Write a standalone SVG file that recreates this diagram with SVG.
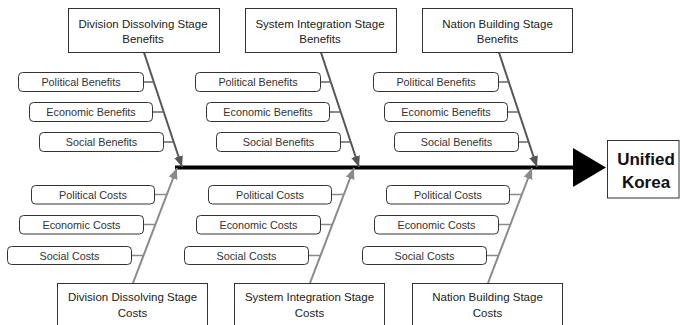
<svg xmlns="http://www.w3.org/2000/svg" width="680" height="325" viewBox="0 0 680 325">
  <defs>
    <style>
      .box { fill: #fff; stroke: #333; stroke-width: 1; }
      .pill { fill: #fff; stroke: #333; stroke-width: 1; }
      .title { font-family: "Liberation Sans", Arial, sans-serif; font-size: 11.5px; fill: #222; text-anchor: middle; }
      .item { font-family: "Liberation Sans", Arial, sans-serif; font-size: 10.8px; fill: #333; text-anchor: middle; }
      .goal { font-family: "Liberation Sans", Arial, sans-serif; font-size: 17px; font-weight: bold; fill: #111; text-anchor: middle; }
      .ben { stroke: #555; stroke-width: 2; fill: none; }
      .cost { stroke: #8a8a8a; stroke-width: 2; fill: none; }
      .tick-ben { stroke: #666; stroke-width: 1.5; }
      .tick-cost { stroke: #8a8a8a; stroke-width: 1.5; }
    </style>
    <marker id="headBen" markerUnits="userSpaceOnUse" markerWidth="12" markerHeight="10" refX="11" refY="4.5" orient="auto">
      <path d="M0,0 L11,4.5 L0,9 Z" fill="#555"/>
    </marker>
    <marker id="headCost" markerUnits="userSpaceOnUse" markerWidth="12" markerHeight="10" refX="11" refY="4.5" orient="auto">
      <path d="M0,0 L11,4.5 L0,9 Z" fill="#8a8a8a"/>
    </marker>
  </defs>

  <!-- connectors: spine, stage bones and item ticks -->
  <g id="connectors">
    <line x1="175" y1="167.5" x2="574" y2="167.5" stroke="#000" stroke-width="4"/>
    <polygon points="573,148 573,187 606,167.5" fill="#000"/>

    <!-- stage 1 -->
    <line class="ben" x1="144" y1="52.5" x2="182" y2="167" marker-end="url(#headBen)"/>
    <line class="tick-ben" x1="143.5" y1="82" x2="153.8" y2="82"/>
    <line class="tick-ben" x1="152.5" y1="112" x2="163.7" y2="112"/>
    <line class="tick-ben" x1="163.5" y1="142" x2="173.6" y2="142"/>
    <line class="cost" x1="133" y1="283" x2="177" y2="168" marker-end="url(#headCost)"/>
    <line class="tick-cost" x1="154.5" y1="194.5" x2="166.8" y2="194.5"/>
    <line class="tick-cost" x1="143.5" y1="224.5" x2="155.4" y2="224.5"/>
    <line class="tick-cost" x1="131.5" y1="255.5" x2="143.5" y2="255.5"/>

    <!-- stage 2 -->
    <g transform="translate(177,0)">
      <line class="ben" x1="144" y1="52.5" x2="182" y2="167" marker-end="url(#headBen)"/>
      <line class="tick-ben" x1="143.5" y1="82" x2="153.8" y2="82"/>
      <line class="tick-ben" x1="152.5" y1="112" x2="163.7" y2="112"/>
      <line class="tick-ben" x1="163.5" y1="142" x2="173.6" y2="142"/>
      <line class="cost" x1="133" y1="283" x2="177" y2="168" marker-end="url(#headCost)"/>
      <line class="tick-cost" x1="154.5" y1="194.5" x2="166.8" y2="194.5"/>
      <line class="tick-cost" x1="143.5" y1="224.5" x2="155.4" y2="224.5"/>
      <line class="tick-cost" x1="131.5" y1="255.5" x2="143.5" y2="255.5"/>
    </g>

    <!-- stage 3 -->
    <g transform="translate(355,0)">
      <line class="ben" x1="144" y1="52.5" x2="182" y2="167" marker-end="url(#headBen)"/>
      <line class="tick-ben" x1="143.5" y1="82" x2="153.8" y2="82"/>
      <line class="tick-ben" x1="152.5" y1="112" x2="163.7" y2="112"/>
      <line class="tick-ben" x1="163.5" y1="142" x2="173.6" y2="142"/>
      <line class="cost" x1="133" y1="283" x2="177" y2="168" marker-end="url(#headCost)"/>
      <line class="tick-cost" x1="154.5" y1="194.5" x2="166.8" y2="194.5"/>
      <line class="tick-cost" x1="143.5" y1="224.5" x2="155.4" y2="224.5"/>
      <line class="tick-cost" x1="131.5" y1="255.5" x2="143.5" y2="255.5"/>
    </g>
  </g>

  <!-- stage 1 nodes -->
  <g id="s1-benefits">
    <rect class="box" x="68.5" y="8.5" width="151" height="44"/>
    <text class="title" x="143" y="28">Division Dissolving Stage</text>
    <text class="title" x="143" y="43">Benefits</text>
  </g>
  <g id="s1-political-benefits">
    <rect class="pill" x="18.5" y="72.5" width="125" height="19" rx="4"/>
    <text class="item" x="81" y="86">Political Benefits</text>
  </g>
  <g id="s1-economic-benefits">
    <rect class="pill" x="29.5" y="102.5" width="123" height="19" rx="4"/>
    <text class="item" x="91" y="116">Economic Benefits</text>
  </g>
  <g id="s1-social-benefits">
    <rect class="pill" x="39.5" y="132.5" width="124" height="19" rx="4"/>
    <text class="item" x="101.5" y="146">Social Benefits</text>
  </g>
  <g id="s1-political-costs">
    <rect class="pill" x="31.5" y="185.5" width="123" height="18.5" rx="4"/>
    <text class="item" x="93" y="198.5">Political Costs</text>
  </g>
  <g id="s1-economic-costs">
    <rect class="pill" x="19.5" y="215.5" width="124" height="18.5" rx="4"/>
    <text class="item" x="81.5" y="228.5">Economic Costs</text>
  </g>
  <g id="s1-social-costs">
    <rect class="pill" x="7.5" y="246.5" width="124" height="18" rx="4"/>
    <text class="item" x="69.5" y="259.5">Social Costs</text>
  </g>
  <g id="s1-costs">
    <rect class="box" x="57.5" y="283.5" width="150" height="50"/>
    <text class="title" x="132.5" y="301">Division Dissolving Stage</text>
    <text class="title" x="132.5" y="317">Costs</text>
  </g>

  <!-- stage 2 nodes -->
  <g transform="translate(177,0)">
    <g id="s2-benefits">
      <rect class="box" x="68.5" y="8.5" width="151" height="44"/>
      <text class="title" x="143" y="28">System Integration Stage</text>
      <text class="title" x="143" y="43">Benefits</text>
    </g>
    <g id="s2-political-benefits">
      <rect class="pill" x="18.5" y="72.5" width="125" height="19" rx="4"/>
      <text class="item" x="81" y="86">Political Benefits</text>
    </g>
    <g id="s2-economic-benefits">
      <rect class="pill" x="29.5" y="102.5" width="123" height="19" rx="4"/>
      <text class="item" x="91" y="116">Economic Benefits</text>
    </g>
    <g id="s2-social-benefits">
      <rect class="pill" x="39.5" y="132.5" width="124" height="19" rx="4"/>
      <text class="item" x="101.5" y="146">Social Benefits</text>
    </g>
    <g id="s2-political-costs">
      <rect class="pill" x="31.5" y="185.5" width="123" height="18.5" rx="4"/>
      <text class="item" x="93" y="198.5">Political Costs</text>
    </g>
    <g id="s2-economic-costs">
      <rect class="pill" x="19.5" y="215.5" width="124" height="18.5" rx="4"/>
      <text class="item" x="81.5" y="228.5">Economic Costs</text>
    </g>
    <g id="s2-social-costs">
      <rect class="pill" x="7.5" y="246.5" width="124" height="18" rx="4"/>
      <text class="item" x="69.5" y="259.5">Social Costs</text>
    </g>
    <g id="s2-costs">
      <rect class="box" x="57.5" y="283.5" width="150" height="50"/>
      <text class="title" x="132.5" y="301">System Integration Stage</text>
      <text class="title" x="132.5" y="317">Costs</text>
    </g>
  </g>

  <!-- stage 3 nodes -->
  <g transform="translate(355,0)">
    <g id="s3-benefits">
      <rect class="box" x="67.5" y="8.5" width="150" height="44"/>
      <text class="title" x="142.5" y="28">Nation Building Stage</text>
      <text class="title" x="142.5" y="43">Benefits</text>
    </g>
    <g id="s3-political-benefits">
      <rect class="pill" x="18.5" y="72.5" width="125" height="19" rx="4"/>
      <text class="item" x="81" y="86">Political Benefits</text>
    </g>
    <g id="s3-economic-benefits">
      <rect class="pill" x="29.5" y="102.5" width="123" height="19" rx="4"/>
      <text class="item" x="91" y="116">Economic Benefits</text>
    </g>
    <g id="s3-social-benefits">
      <rect class="pill" x="39.5" y="132.5" width="124" height="19" rx="4"/>
      <text class="item" x="101.5" y="146">Social Benefits</text>
    </g>
    <g id="s3-political-costs">
      <rect class="pill" x="31.5" y="185.5" width="123" height="18.5" rx="4"/>
      <text class="item" x="93" y="198.5">Political Costs</text>
    </g>
    <g id="s3-economic-costs">
      <rect class="pill" x="19.5" y="215.5" width="124" height="18.5" rx="4"/>
      <text class="item" x="81.5" y="228.5">Economic Costs</text>
    </g>
    <g id="s3-social-costs">
      <rect class="pill" x="7.5" y="246.5" width="124" height="18" rx="4"/>
      <text class="item" x="69.5" y="259.5">Social Costs</text>
    </g>
    <g id="s3-costs">
      <rect class="box" x="57.5" y="283.5" width="150" height="50"/>
      <text class="title" x="132.5" y="301">Nation Building Stage</text>
      <text class="title" x="132.5" y="317">Costs</text>
    </g>
  </g>

  <!-- outcome -->
  <g id="unified-korea">
    <rect class="box" x="607.5" y="140.5" width="71.5" height="57.5"/>
    <text class="goal" x="646" y="165">Unified</text>
    <text class="goal" x="646" y="187.5">Korea</text>
  </g>
</svg>
